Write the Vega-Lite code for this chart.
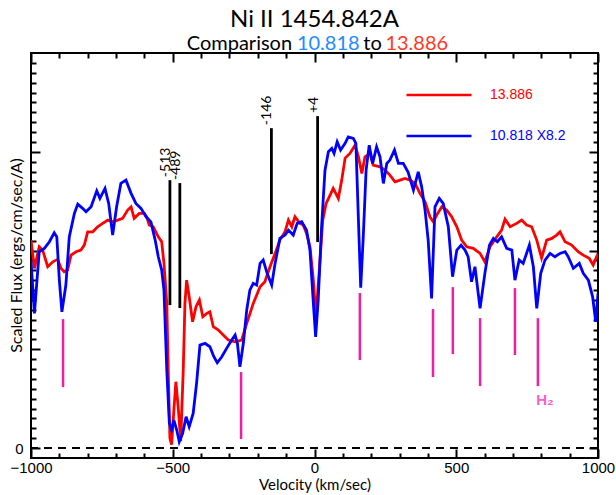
{
  "$schema": "https://vega.github.io/schema/vega-lite/v6.json",
  "width": 567,
  "height": 405,
  "autosize": {"type": "none"},
  "padding": {"left": 31, "top": 53, "right": 18, "bottom": 37},
  "background": "white",
  "config": {
    "view": {"stroke": "black", "strokeWidth": 2},
    "axis": {"domain": false, "grid": false, "tickColor": "black", "tickWidth": 2, "labelColor": "black", "titleColor": "black"}
  },
  "title": {"text": "Ni II 1454.842A", "font": "Lato", "fontSize": 24, "fontWeight": "normal", "color": "black", "anchor": "middle", "frame": "group", "offset": 2},
  "datasets": {
    "spectra": [
      {"series": "13.886", "v": -1000, "f": 2.106}, {"series": "13.886", "v": -988, "f": 1.82}, {"series": "13.886", "v": -971, "f": 2.038}, {"series": "13.886", "v": -959, "f": 2.005}, {"series": "13.886", "v": -941, "f": 1.836}, {"series": "13.886", "v": -923, "f": 1.886}, {"series": "13.886", "v": -906, "f": 1.911}, {"series": "13.886", "v": -894, "f": 1.82}, {"series": "13.886", "v": -883, "f": 1.785}, {"series": "13.886", "v": -871, "f": 1.802}, {"series": "13.886", "v": -859, "f": 1.954}, {"series": "13.886", "v": -841, "f": 1.988}, {"series": "13.886", "v": -824, "f": 2.005}, {"series": "13.886", "v": -812, "f": 2.055}, {"series": "13.886", "v": -800, "f": 2.19}, {"series": "13.886", "v": -782, "f": 2.19}, {"series": "13.886", "v": -765, "f": 2.241}, {"series": "13.886", "v": -747, "f": 2.275}, {"series": "13.886", "v": -729, "f": 2.308}, {"series": "13.886", "v": -712, "f": 2.291}, {"series": "13.886", "v": -694, "f": 2.308}, {"series": "13.886", "v": -677, "f": 2.326}, {"series": "13.886", "v": -659, "f": 2.41}, {"series": "13.886", "v": -647, "f": 2.443}, {"series": "13.886", "v": -636, "f": 2.326}, {"series": "13.886", "v": -618, "f": 2.376}, {"series": "13.886", "v": -600, "f": 2.376}, {"series": "13.886", "v": -592, "f": 2.342}, {"series": "13.886", "v": -583, "f": 2.258}, {"series": "13.886", "v": -569, "f": 2.241}, {"series": "13.886", "v": -551, "f": 2.139}, {"series": "13.886", "v": -539, "f": 2.089}, {"series": "13.886", "v": -531, "f": 1.87}, {"series": "13.886", "v": -521, "f": 1.465}, {"series": "13.886", "v": -516, "f": 0.79}, {"series": "13.886", "v": -510, "f": 0.1}, {"series": "13.886", "v": -504, "f": 0.035}, {"series": "13.886", "v": -496, "f": 0.386}, {"series": "13.886", "v": -489, "f": 0.672}, {"series": "13.886", "v": -480, "f": 0.386}, {"series": "13.886", "v": -472, "f": 0.07}, {"series": "13.886", "v": -463, "f": 0.79}, {"series": "13.886", "v": -457, "f": 1.465}, {"series": "13.886", "v": -451, "f": 1.701}, {"series": "13.886", "v": -442, "f": 1.532}, {"series": "13.886", "v": -430, "f": 1.279}, {"series": "13.886", "v": -418, "f": 1.431}, {"series": "13.886", "v": -406, "f": 1.499}, {"series": "13.886", "v": -394, "f": 1.33}, {"series": "13.886", "v": -380, "f": 1.364}, {"series": "13.886", "v": -369, "f": 1.38}, {"series": "13.886", "v": -357, "f": 1.229}, {"series": "13.886", "v": -339, "f": 1.195}, {"series": "13.886", "v": -322, "f": 1.145}, {"series": "13.886", "v": -304, "f": 1.094}, {"series": "13.886", "v": -280, "f": 1.077}, {"series": "13.886", "v": -257, "f": 1.094}, {"series": "13.886", "v": -239, "f": 1.263}, {"series": "13.886", "v": -216, "f": 1.465}, {"series": "13.886", "v": -192, "f": 1.633}, {"series": "13.886", "v": -175, "f": 1.684}, {"series": "13.886", "v": -157, "f": 1.836}, {"series": "13.886", "v": -139, "f": 1.971}, {"series": "13.886", "v": -122, "f": 2.106}, {"series": "13.886", "v": -104, "f": 2.19}, {"series": "13.886", "v": -92, "f": 2.308}, {"series": "13.886", "v": -80, "f": 2.241}, {"series": "13.886", "v": -69, "f": 2.342}, {"series": "13.886", "v": -51, "f": 2.275}, {"series": "13.886", "v": -40, "f": 2.258}, {"series": "13.886", "v": -28, "f": 2.174}, {"series": "13.886", "v": -16, "f": 2.038}, {"series": "13.886", "v": -4, "f": 1.701}, {"series": "13.886", "v": 5, "f": 1.33}, {"series": "13.886", "v": 17, "f": 1.802}, {"series": "13.886", "v": 29, "f": 2.308}, {"series": "13.886", "v": 41, "f": 2.477}, {"series": "13.886", "v": 55, "f": 2.561}, {"series": "13.886", "v": 66, "f": 2.629}, {"series": "13.886", "v": 84, "f": 2.528}, {"series": "13.886", "v": 96, "f": 2.713}, {"series": "13.886", "v": 108, "f": 2.936}, {"series": "13.886", "v": 125, "f": 2.983}, {"series": "13.886", "v": 143, "f": 3.067}, {"series": "13.886", "v": 155, "f": 2.949}, {"series": "13.886", "v": 167, "f": 2.781}, {"series": "13.886", "v": 178, "f": 2.949}, {"series": "13.886", "v": 196, "f": 2.983}, {"series": "13.886", "v": 207, "f": 2.865}, {"series": "13.886", "v": 231, "f": 2.848}, {"series": "13.886", "v": 249, "f": 2.814}, {"series": "13.886", "v": 266, "f": 2.764}, {"series": "13.886", "v": 284, "f": 2.696}, {"series": "13.886", "v": 302, "f": 2.713}, {"series": "13.886", "v": 319, "f": 2.73}, {"series": "13.886", "v": 337, "f": 2.713}, {"series": "13.886", "v": 355, "f": 2.68}, {"series": "13.886", "v": 372, "f": 2.579}, {"series": "13.886", "v": 390, "f": 2.494}, {"series": "13.886", "v": 407, "f": 2.342}, {"series": "13.886", "v": 419, "f": 2.291}, {"series": "13.886", "v": 431, "f": 2.359}, {"series": "13.886", "v": 449, "f": 2.443}, {"series": "13.886", "v": 466, "f": 2.41}, {"series": "13.886", "v": 484, "f": 2.342}, {"series": "13.886", "v": 502, "f": 2.241}, {"series": "13.886", "v": 519, "f": 2.106}, {"series": "13.886", "v": 537, "f": 2.038}, {"series": "13.886", "v": 560, "f": 2.022}, {"series": "13.886", "v": 584, "f": 1.971}, {"series": "13.886", "v": 601, "f": 1.886}, {"series": "13.886", "v": 619, "f": 2.038}, {"series": "13.886", "v": 643, "f": 2.139}, {"series": "13.886", "v": 660, "f": 2.207}, {"series": "13.886", "v": 672, "f": 2.318}, {"series": "13.886", "v": 690, "f": 2.241}, {"series": "13.886", "v": 713, "f": 2.275}, {"series": "13.886", "v": 731, "f": 2.308}, {"series": "13.886", "v": 748, "f": 2.258}, {"series": "13.886", "v": 766, "f": 2.241}, {"series": "13.886", "v": 784, "f": 2.106}, {"series": "13.886", "v": 801, "f": 1.924}, {"series": "13.886", "v": 819, "f": 2.106}, {"series": "13.886", "v": 837, "f": 2.123}, {"series": "13.886", "v": 854, "f": 2.157}, {"series": "13.886", "v": 866, "f": 2.19}, {"series": "13.886", "v": 884, "f": 2.089}, {"series": "13.886", "v": 907, "f": 2.055}, {"series": "13.886", "v": 930, "f": 1.988}, {"series": "13.886", "v": 948, "f": 1.954}, {"series": "13.886", "v": 969, "f": 1.921}, {"series": "13.886", "v": 983, "f": 1.853}, {"series": "13.886", "v": 995, "f": 1.937}, {"series": "13.886", "v": 1000, "f": 1.971},
      {"series": "10.818 X8.2", "v": -1000, "f": 1.904}, {"series": "10.818 X8.2", "v": -988, "f": 1.364}, {"series": "10.818 X8.2", "v": -971, "f": 1.988}, {"series": "10.818 X8.2", "v": -953, "f": 2.022}, {"series": "10.818 X8.2", "v": -935, "f": 2.089}, {"series": "10.818 X8.2", "v": -918, "f": 2.18}, {"series": "10.818 X8.2", "v": -909, "f": 2.139}, {"series": "10.818 X8.2", "v": -900, "f": 1.701}, {"series": "10.818 X8.2", "v": -891, "f": 1.38}, {"series": "10.818 X8.2", "v": -877, "f": 1.651}, {"series": "10.818 X8.2", "v": -865, "f": 2.139}, {"series": "10.818 X8.2", "v": -847, "f": 2.376}, {"series": "10.818 X8.2", "v": -835, "f": 2.47}, {"series": "10.818 X8.2", "v": -818, "f": 2.427}, {"series": "10.818 X8.2", "v": -806, "f": 2.392}, {"series": "10.818 X8.2", "v": -788, "f": 2.443}, {"series": "10.818 X8.2", "v": -768, "f": 2.605}, {"series": "10.818 X8.2", "v": -757, "f": 2.528}, {"series": "10.818 X8.2", "v": -739, "f": 2.629}, {"series": "10.818 X8.2", "v": -726, "f": 2.477}, {"series": "10.818 X8.2", "v": -712, "f": 2.157}, {"series": "10.818 X8.2", "v": -698, "f": 2.443}, {"series": "10.818 X8.2", "v": -683, "f": 2.68}, {"series": "10.818 X8.2", "v": -665, "f": 2.713}, {"series": "10.818 X8.2", "v": -647, "f": 2.579}, {"series": "10.818 X8.2", "v": -630, "f": 2.477}, {"series": "10.818 X8.2", "v": -612, "f": 2.427}, {"series": "10.818 X8.2", "v": -594, "f": 2.342}, {"series": "10.818 X8.2", "v": -577, "f": 2.291}, {"series": "10.818 X8.2", "v": -562, "f": 2.106}, {"series": "10.818 X8.2", "v": -551, "f": 1.937}, {"series": "10.818 X8.2", "v": -539, "f": 1.802}, {"series": "10.818 X8.2", "v": -531, "f": 1.6}, {"series": "10.818 X8.2", "v": -521, "f": 0.79}, {"series": "10.818 X8.2", "v": -512, "f": 0.251}, {"series": "10.818 X8.2", "v": -504, "f": 0.183}, {"series": "10.818 X8.2", "v": -496, "f": 0.284}, {"series": "10.818 X8.2", "v": -486, "f": 0.183}, {"series": "10.818 X8.2", "v": -477, "f": 0.065}, {"series": "10.818 X8.2", "v": -465, "f": 0.15}, {"series": "10.818 X8.2", "v": -453, "f": 0.318}, {"series": "10.818 X8.2", "v": -442, "f": 0.217}, {"series": "10.818 X8.2", "v": -428, "f": 0.352}, {"series": "10.818 X8.2", "v": -416, "f": 0.656}, {"series": "10.818 X8.2", "v": -404, "f": 1.043}, {"series": "10.818 X8.2", "v": -386, "f": 1.061}, {"series": "10.818 X8.2", "v": -369, "f": 1.026}, {"series": "10.818 X8.2", "v": -355, "f": 0.925}, {"series": "10.818 X8.2", "v": -343, "f": 0.864}, {"series": "10.818 X8.2", "v": -327, "f": 0.925}, {"series": "10.818 X8.2", "v": -310, "f": 1.01}, {"series": "10.818 X8.2", "v": -292, "f": 1.094}, {"series": "10.818 X8.2", "v": -280, "f": 1.145}, {"series": "10.818 X8.2", "v": -272, "f": 1.061}, {"series": "10.818 X8.2", "v": -263, "f": 0.824}, {"series": "10.818 X8.2", "v": -251, "f": 1.061}, {"series": "10.818 X8.2", "v": -239, "f": 1.398}, {"series": "10.818 X8.2", "v": -228, "f": 1.6}, {"series": "10.818 X8.2", "v": -216, "f": 1.668}, {"series": "10.818 X8.2", "v": -204, "f": 1.651}, {"series": "10.818 X8.2", "v": -192, "f": 1.87}, {"series": "10.818 X8.2", "v": -181, "f": 1.904}, {"series": "10.818 X8.2", "v": -167, "f": 1.769}, {"series": "10.818 X8.2", "v": -151, "f": 1.651}, {"series": "10.818 X8.2", "v": -139, "f": 1.87}, {"series": "10.818 X8.2", "v": -122, "f": 2.123}, {"series": "10.818 X8.2", "v": -104, "f": 2.157}, {"series": "10.818 X8.2", "v": -92, "f": 2.207}, {"series": "10.818 X8.2", "v": -75, "f": 2.157}, {"series": "10.818 X8.2", "v": -61, "f": 2.275}, {"series": "10.818 X8.2", "v": -45, "f": 2.291}, {"series": "10.818 X8.2", "v": -28, "f": 2.207}, {"series": "10.818 X8.2", "v": -16, "f": 2.005}, {"series": "10.818 X8.2", "v": -4, "f": 1.465}, {"series": "10.818 X8.2", "v": 4, "f": 1.127}, {"series": "10.818 X8.2", "v": 13, "f": 1.499}, {"series": "10.818 X8.2", "v": 25, "f": 2.241}, {"series": "10.818 X8.2", "v": 37, "f": 2.814}, {"series": "10.818 X8.2", "v": 49, "f": 3.0}, {"series": "10.818 X8.2", "v": 61, "f": 3.034}, {"series": "10.818 X8.2", "v": 69, "f": 2.983}, {"series": "10.818 X8.2", "v": 80, "f": 3.101}, {"series": "10.818 X8.2", "v": 92, "f": 3.017}, {"series": "10.818 X8.2", "v": 108, "f": 3.085}, {"series": "10.818 X8.2", "v": 119, "f": 3.151}, {"series": "10.818 X8.2", "v": 137, "f": 3.135}, {"series": "10.818 X8.2", "v": 146, "f": 3.085}, {"series": "10.818 X8.2", "v": 155, "f": 2.308}, {"series": "10.818 X8.2", "v": 163, "f": 1.625}, {"series": "10.818 X8.2", "v": 172, "f": 2.139}, {"series": "10.818 X8.2", "v": 182, "f": 2.814}, {"series": "10.818 X8.2", "v": 193, "f": 3.067}, {"series": "10.818 X8.2", "v": 205, "f": 2.882}, {"series": "10.818 X8.2", "v": 219, "f": 3.05}, {"series": "10.818 X8.2", "v": 231, "f": 2.949}, {"series": "10.818 X8.2", "v": 243, "f": 2.68}, {"series": "10.818 X8.2", "v": 255, "f": 2.882}, {"series": "10.818 X8.2", "v": 266, "f": 2.916}, {"series": "10.818 X8.2", "v": 282, "f": 3.017}, {"series": "10.818 X8.2", "v": 296, "f": 2.882}, {"series": "10.818 X8.2", "v": 313, "f": 2.882}, {"series": "10.818 X8.2", "v": 330, "f": 2.794}, {"series": "10.818 X8.2", "v": 349, "f": 2.612}, {"series": "10.818 X8.2", "v": 366, "f": 2.797}, {"series": "10.818 X8.2", "v": 378, "f": 2.645}, {"series": "10.818 X8.2", "v": 390, "f": 2.41}, {"series": "10.818 X8.2", "v": 401, "f": 2.106}, {"series": "10.818 X8.2", "v": 413, "f": 1.516}, {"series": "10.818 X8.2", "v": 425, "f": 2.443}, {"series": "10.818 X8.2", "v": 440, "f": 2.528}, {"series": "10.818 X8.2", "v": 454, "f": 2.477}, {"series": "10.818 X8.2", "v": 472, "f": 2.241}, {"series": "10.818 X8.2", "v": 487, "f": 1.735}, {"series": "10.818 X8.2", "v": 502, "f": 2.005}, {"series": "10.818 X8.2", "v": 517, "f": 2.055}, {"series": "10.818 X8.2", "v": 531, "f": 2.005}, {"series": "10.818 X8.2", "v": 542, "f": 1.937}, {"series": "10.818 X8.2", "v": 554, "f": 1.684}, {"series": "10.818 X8.2", "v": 566, "f": 1.836}, {"series": "10.818 X8.2", "v": 584, "f": 1.415}, {"series": "10.818 X8.2", "v": 601, "f": 1.769}, {"series": "10.818 X8.2", "v": 617, "f": 2.055}, {"series": "10.818 X8.2", "v": 631, "f": 2.123}, {"series": "10.818 X8.2", "v": 645, "f": 2.089}, {"series": "10.818 X8.2", "v": 660, "f": 2.139}, {"series": "10.818 X8.2", "v": 678, "f": 2.022}, {"series": "10.818 X8.2", "v": 696, "f": 2.005}, {"series": "10.818 X8.2", "v": 707, "f": 1.701}, {"series": "10.818 X8.2", "v": 722, "f": 1.904}, {"series": "10.818 X8.2", "v": 736, "f": 1.87}, {"series": "10.818 X8.2", "v": 758, "f": 2.055}, {"series": "10.818 X8.2", "v": 772, "f": 1.836}, {"series": "10.818 X8.2", "v": 784, "f": 1.415}, {"series": "10.818 X8.2", "v": 798, "f": 1.769}, {"series": "10.818 X8.2", "v": 813, "f": 1.904}, {"series": "10.818 X8.2", "v": 831, "f": 1.971}, {"series": "10.818 X8.2", "v": 848, "f": 1.937}, {"series": "10.818 X8.2", "v": 866, "f": 1.971}, {"series": "10.818 X8.2", "v": 884, "f": 1.988}, {"series": "10.818 X8.2", "v": 895, "f": 1.937}, {"series": "10.818 X8.2", "v": 913, "f": 1.82}, {"series": "10.818 X8.2", "v": 934, "f": 1.87}, {"series": "10.818 X8.2", "v": 948, "f": 1.769}, {"series": "10.818 X8.2", "v": 966, "f": 1.701}, {"series": "10.818 X8.2", "v": 981, "f": 1.532}, {"series": "10.818 X8.2", "v": 992, "f": 1.279}, {"series": "10.818 X8.2", "v": 1000, "f": 1.567}
    ],
    "components": [
      {"v": -510, "lo": 1.448, "hi": 2.713, "label": "-513"},
      {"v": -475, "lo": 1.418, "hi": 2.683, "label": "-489"},
      {"v": -152, "lo": 1.964, "hi": 3.239, "label": "-146"},
      {"v": 11, "lo": 2.086, "hi": 3.361, "label": "+4"}
    ],
    "h2": [
      {"v": -887, "lo": 0.618, "hi": 1.306},
      {"v": -259, "lo": 0.092, "hi": 0.77},
      {"v": 160, "lo": 0.892, "hi": 1.57},
      {"v": 418, "lo": 0.72, "hi": 1.408},
      {"v": 488, "lo": 0.952, "hi": 1.63},
      {"v": 584, "lo": 0.628, "hi": 1.316},
      {"v": 707, "lo": 0.942, "hi": 1.62},
      {"v": 788, "lo": 0.628, "hi": 1.316}
    ],
    "one": [{}]
  },
  "resolve": {"axis": {"x": "independent", "y": "independent"}},
  "layer": [
    {
      "data": {"name": "spectra"},
      "mark": {"type": "line", "strokeWidth": 2.8, "clip": true},
      "encoding": {
        "x": {"field": "v", "type": "quantitative", "scale": {"domain": [-1000, 1000], "nice": false, "zero": false},
          "axis": {"orient": "bottom", "values": [-1000, -500, 0, 500, 1000], "tickSize": -9, "labelPadding": 11, "labelFont": "Liberation Sans", "labelFontSize": 15, "labelFlush": false, "labelOverlap": false, "format": "d", "title": "Velocity (km/sec)", "titleFont": "Lato", "titleFontSize": 15, "titleFontWeight": "normal", "titlePadding": 2}},
        "y": {"field": "f", "type": "quantitative", "scale": {"domain": [-0.1, 4.0], "nice": false, "zero": false},
          "axis": {"orient": "left", "values": [0, 1, 2, 3], "tickSize": -9, "labelPadding": 17, "labelExpr": "datum.value === 0 ? '0' : ''", "labelFont": "Liberation Sans", "labelFontSize": 15, "labelBaseline": "middle", "title": "Scaled Flux (ergs/cm/sec/A)", "titleFont": "Lato", "titleFontSize": 16, "titleFontWeight": "normal", "titleAngle": 270, "titleBaseline": "bottom", "titleAlign": "center", "titleX": -7, "titleY": 202}},
        "color": {"field": "series", "type": "nominal", "sort": ["13.886", "10.818 X8.2"],
          "scale": {"domain": ["13.886", "10.818 X8.2"], "range": ["#ff0000", "#0000ff"]},
          "legend": {"orient": "none", "legendX": 374, "legendY": 8, "title": null, "padding": 0, "symbolType": "stroke", "symbolSize": 4225, "symbolStrokeWidth": 2.5, "labelFont": "Liberation Sans", "labelFontSize": 14, "labelOffset": 17, "rowPadding": -57, "labelColor": {"expr": "datum.value == '13.886' ? '#ff0000' : '#0000ff'"}}},
        "detail": {"field": "series"}
      }
    },
    {
      "data": {"name": "components"},
      "mark": {"type": "rule", "color": "black", "strokeWidth": 2.8},
      "encoding": {
        "x": {"field": "v", "type": "quantitative", "axis": {"orient": "bottom", "values": [-900, -800, -700, -600, -400, -300, -200, -100, 100, 200, 300, 400, 600, 700, 800, 900], "tickSize": -5, "labels": false, "title": null}},
        "y": {"field": "lo", "type": "quantitative", "axis": {"orient": "left", "values": [0.1, 0.2, 0.3, 0.4, 0.5, 0.6, 0.7, 0.8, 0.9, 1.1, 1.2, 1.3, 1.4, 1.5, 1.6, 1.7, 1.8, 1.9, 2.1, 2.2, 2.3, 2.4, 2.5, 2.6, 2.7, 2.8, 2.9, 3.1, 3.2, 3.3, 3.4, 3.5, 3.6, 3.7, 3.8, 3.9], "tickSize": -5, "labels": false, "title": null}},
        "y2": {"field": "hi"}
      }
    },
    {
      "data": {"name": "components"},
      "mark": {"type": "text", "angle": 270, "align": "left", "baseline": "alphabetic", "dx": 3, "font": "Lato", "fontSize": 14, "color": "black"},
      "encoding": {
        "x": {"field": "v", "type": "quantitative", "axis": {"orient": "top", "values": [-1000, -500, 0, 500, 1000], "tickSize": -9, "labels": false, "title": null}},
        "y": {"field": "hi", "type": "quantitative", "axis": {"orient": "right", "values": [0, 1, 2, 3], "tickSize": -9, "labels": false, "title": null}},
        "text": {"field": "label"}
      }
    },
    {
      "data": {"name": "h2"},
      "mark": {"type": "rule", "color": "#f01ea4", "strokeWidth": 2.5},
      "encoding": {
        "x": {"field": "v", "type": "quantitative", "axis": {"orient": "top", "values": [-900, -800, -700, -600, -400, -300, -200, -100, 100, 200, 300, 400, 600, 700, 800, 900], "tickSize": -5, "labels": false, "title": null}},
        "y": {"field": "lo", "type": "quantitative", "axis": {"orient": "right", "values": [0.1, 0.2, 0.3, 0.4, 0.5, 0.6, 0.7, 0.8, 0.9, 1.1, 1.2, 1.3, 1.4, 1.5, 1.6, 1.7, 1.8, 1.9, 2.1, 2.2, 2.3, 2.4, 2.5, 2.6, 2.7, 2.8, 2.9, 3.1, 3.2, 3.3, 3.4, 3.5, 3.6, 3.7, 3.8, 3.9], "tickSize": -5, "labels": false, "title": null}},
        "y2": {"field": "hi"}
      }
    },
    {
      "data": {"name": "one"},
      "mark": {"type": "text", "text": "H₂", "font": "Liberation Sans", "fontSize": 15, "fontWeight": "bold", "color": "#ff5ccc", "align": "center", "baseline": "middle"},
      "encoding": {
        "x": {"datum": 813, "type": "quantitative", "axis": null},
        "y": {"datum": 0.486, "type": "quantitative", "axis": null}
      }
    },
    {
      "data": {"name": "one"},
      "mark": {"type": "rule", "color": "black", "strokeWidth": 2, "strokeDash": [8, 6]},
      "encoding": {
        "y": {"datum": 0, "type": "quantitative", "axis": null}
      }
    },
    {
      "data": {"name": "one"},
      "mark": {"type": "text", "text": "Comparison", "font": "Lato", "fontSize": 20, "color": "black", "align": "right", "baseline": "middle"},
      "encoding": {"x": {"datum": -79, "type": "quantitative", "axis": null}, "y": {"datum": 4.095, "type": "quantitative", "axis": null}}
    },
    {
      "data": {"name": "one"},
      "mark": {"type": "text", "text": "10.818", "font": "Lato", "fontSize": 20, "color": "#1e8cff", "align": "left", "baseline": "middle"},
      "encoding": {"x": {"datum": -62, "type": "quantitative", "axis": null}, "y": {"datum": 4.095, "type": "quantitative", "axis": null}}
    },
    {
      "data": {"name": "one"},
      "mark": {"type": "text", "text": "to", "font": "Lato", "fontSize": 20, "color": "black", "align": "left", "baseline": "middle"},
      "encoding": {"x": {"datum": 172, "type": "quantitative", "axis": null}, "y": {"datum": 4.095, "type": "quantitative", "axis": null}}
    },
    {
      "data": {"name": "one"},
      "mark": {"type": "text", "text": "13.886", "font": "Lato", "fontSize": 20, "color": "#ff3a1c", "align": "left", "baseline": "middle"},
      "encoding": {"x": {"datum": 250, "type": "quantitative", "axis": null}, "y": {"datum": 4.095, "type": "quantitative", "axis": null}}
    }
  ]
}
